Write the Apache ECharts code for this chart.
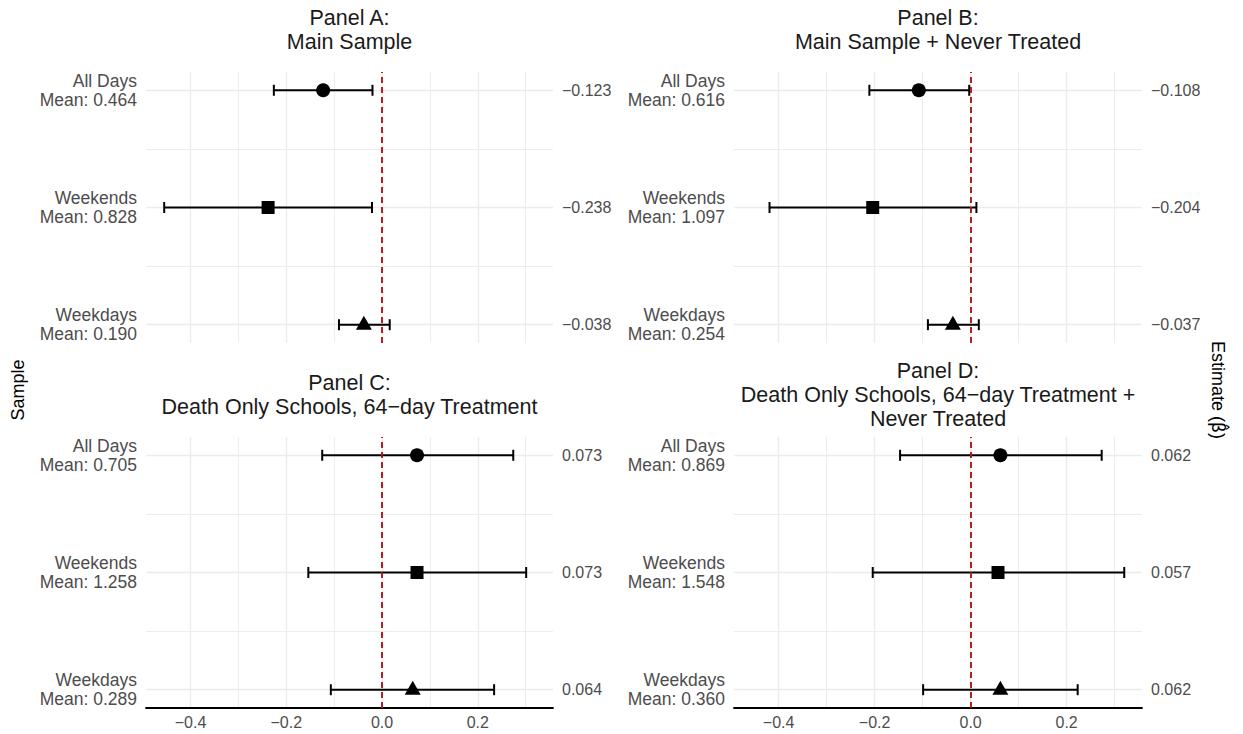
<!DOCTYPE html>
<html>
<head>
<meta charset="utf-8">
<script src="https://cdn.jsdelivr.net/npm/echarts@6/dist/echarts.min.js"></script>
<style>
  html, body { margin: 0; padding: 0; background: #ffffff; }
  #chart { width: 1243px; height: 734px; }
</style>
</head>
<body>
<div id="chart"></div>
<script>
// Event-study style estimates with confidence intervals, by sample and panel
const samples = ['All Days', 'Weekends', 'Weekdays'];
const rowPositions = [3, 2, 1];
const markerShapes = ['circle', 'rect', 'triangle'];
const panelTitles = [
  'Panel A:\nMain Sample',
  'Panel B:\nMain Sample + Never Treated',
  'Panel C:\nDeath Only Schools, 64\u2212day Treatment',
  'Panel D:\nDeath Only Schools, 64\u2212day Treatment +\nNever Treated'
];

const meanA = [0.464, 0.828, 0.190];
const estA = [-0.123, -0.238, -0.038];
const lowA = [-0.226, -0.455, -0.090];
const highA = [-0.020, -0.021, 0.016];

const meanB = [0.616, 1.097, 0.254];
const estB = [-0.108, -0.204, -0.037];
const lowB = [-0.211, -0.419, -0.089];
const highB = [-0.003, 0.012, 0.017];

const meanC = [0.705, 1.258, 0.289];
const estC = [0.073, 0.073, 0.064];
const lowC = [-0.125, -0.154, -0.107];
const highC = [0.274, 0.301, 0.234];

const meanD = [0.869, 1.548, 0.360];
const estD = [0.062, 0.057, 0.062];
const lowD = [-0.147, -0.204, -0.099];
const highD = [0.273, 0.320, 0.223];

const xTickValues = [-0.4, -0.2, 0, 0.2];
const xMinorValues = [-0.3, -0.1, 0.1, 0.3];
const rowMidValues = [1.5, 2.5];

// ---- layout and styling ----
const FONT = "'Liberation Sans', Arial, Helvetica, sans-serif";
const LABEL_GREY = '#4d4d4d';
const GRID_GREY = '#ebebeb';
const X_MIN = -0.493, X_MAX = 0.357;
const Y_MIN = 0.844, Y_MAX = 3.156;

const panels = [
  { mean: meanA, est: estA, low: lowA, high: highA, box: { left: 146, top: 72, width: 407, height: 271 }, showX: false },
  { mean: meanB, est: estB, low: lowB, high: highB, box: { left: 734, top: 72, width: 408, height: 271 }, showX: false },
  { mean: meanC, est: estC, low: lowC, high: highC, box: { left: 146, top: 437, width: 407, height: 271 }, showX: true },
  { mean: meanD, est: estD, low: lowD, high: highD, box: { left: 734, top: 437, width: 408, height: 271 }, showX: true }
];

const fmt = (v, d) => v.toFixed(d).replace('-', '\u2212');
const rowIndex = v => rowPositions.indexOf(Math.round(v));

const grids = [], xAxes = [], yAxes = [], series = [], graphics = [];

panels.forEach((p, i) => {
  grids.push(Object.assign({ containLabel: false }, p.box));

  xAxes.push({
    gridIndex: i, type: 'value', min: X_MIN, max: X_MAX,
    axisLine: { show: p.showX, onZero: false, lineStyle: { color: '#000', width: 1.8 } },
    axisTick: { show: false },
    splitLine: { show: false },
    axisLabel: {
      show: p.showX, customValues: xTickValues, formatter: v => fmt(v, 1),
      color: LABEL_GREY, fontSize: 16, fontFamily: FONT, margin: 6
    }
  });

  // left: sample name and outcome mean
  yAxes.push({
    gridIndex: i, type: 'value', min: Y_MIN, max: Y_MAX, position: 'left',
    axisLine: { show: false }, axisTick: { show: false }, splitLine: { show: false },
    axisLabel: {
      customValues: rowPositions,
      formatter: v => { const k = rowIndex(v); return samples[k] + '\nMean: ' + p.mean[k].toFixed(3); },
      color: LABEL_GREY, fontSize: 17.5, fontFamily: FONT, lineHeight: 19, margin: 9, align: 'right'
    }
  });
  // right: point estimate
  yAxes.push({
    gridIndex: i, type: 'value', min: Y_MIN, max: Y_MAX, position: 'right',
    axisLine: { show: false }, axisTick: { show: false }, splitLine: { show: false },
    axisLabel: {
      customValues: rowPositions,
      formatter: v => fmt(p.est[rowIndex(v)], 3),
      color: LABEL_GREY, fontSize: 16, fontFamily: FONT, margin: 9, align: 'left'
    }
  });

  const yl = 2 * i;
  const major = { color: GRID_GREY, width: 1.4, type: 'solid' };
  const minor = { color: GRID_GREY, width: 0.9, type: 'solid' };

  // panel grid lines
  series.push({
    type: 'line', xAxisIndex: i, yAxisIndex: yl, data: [], silent: true, z: 0,
    markLine: {
      silent: true, symbol: ['none', 'none'], label: { show: false }, z: 0, animation: false,
      emphasis: { disabled: true },
      data: [].concat(
        xTickValues.map(v => ({ xAxis: v, lineStyle: major })),
        xMinorValues.map(v => ({ xAxis: v, lineStyle: minor })),
        rowPositions.map(v => ({ yAxis: v, lineStyle: major })),
        rowMidValues.map(v => ({ yAxis: v, lineStyle: minor }))
      )
    }
  });

  // confidence intervals
  series.push({
    type: 'custom', xAxisIndex: i, yAxisIndex: yl, z: 4, silent: true,
    data: samples.map((s, k) => [p.low[k], p.high[k], rowPositions[k]]),
    encode: { x: [0, 1], y: 2 },
    renderItem: (params, api) => {
      const y = api.value(2);
      const a = api.coord([api.value(0), y]);
      const b = api.coord([api.value(1), y]);
      const h = 5.5;
      const st = { stroke: '#000', lineWidth: 2, fill: null };
      return {
        type: 'group',
        children: [
          { type: 'line', shape: { x1: a[0], y1: a[1], x2: b[0], y2: b[1] }, style: st },
          { type: 'line', shape: { x1: a[0], y1: a[1] - h, x2: a[0], y2: a[1] + h }, style: st },
          { type: 'line', shape: { x1: b[0], y1: b[1] - h, x2: b[0], y2: b[1] + h }, style: st }
        ]
      };
    }
  });

  // zero reference line
  series.push({
    type: 'line', xAxisIndex: i, yAxisIndex: yl, data: [], silent: true, z: 6,
    markLine: {
      silent: true, symbol: ['none', 'none'], label: { show: false }, z: 6, animation: false,
      emphasis: { disabled: true },
      data: [{ xAxis: 0 }],
      lineStyle: { color: '#b0151b', width: 1.9, type: [6, 4] }
    }
  });

  // point estimates
  series.push({
    type: 'scatter', xAxisIndex: i, yAxisIndex: yl, z: 8, silent: true,
    itemStyle: { color: '#000', opacity: 1 },
    data: samples.map((s, k) => ({
      value: [p.est[k], rowPositions[k]],
      symbol: markerShapes[k],
      symbolSize: k === 0 ? 14 : (k === 1 ? 13 : [16, 14]),
      symbolOffset: k === 2 ? [0, -2] : [0, 0]
    }))
  });

  // panel title
  graphics.push({
    type: 'text', x: p.box.left + p.box.width / 2, y: p.box.top - 42, silent: true,
    style: {
      text: panelTitles[i], textAlign: 'center', textVerticalAlign: 'middle',
      fontSize: 21.5, fontFamily: FONT, fill: '#1a1a1a', lineHeight: 23.8
    }
  });
});

graphics.push({
  type: 'text', x: 18, y: 390, rotation: Math.PI / 2, silent: true,
  style: { text: 'Sample', textAlign: 'center', textVerticalAlign: 'middle', fontSize: 18, fontFamily: FONT, fill: '#000' }
});
graphics.push({
  type: 'text', x: 1218, y: 390, rotation: -Math.PI / 2, silent: true,
  style: {
    text: 'Estimate ({b|\u03B2\u0302})', textAlign: 'center', textVerticalAlign: 'middle',
    fontSize: 18, fontFamily: FONT, fill: '#000',
    rich: { b: { fontFamily: "'DejaVu Sans'", fontSize: 17, fill: '#000' } }
  }
});

const chart = echarts.init(document.getElementById('chart'), null, { renderer: 'svg' });
chart.setOption({
  animation: false,
  backgroundColor: '#ffffff',
  textStyle: { fontFamily: FONT },
  grid: grids,
  xAxis: xAxes,
  yAxis: yAxes,
  series: series,
  graphic: graphics
});
</script>
</body>
</html>
